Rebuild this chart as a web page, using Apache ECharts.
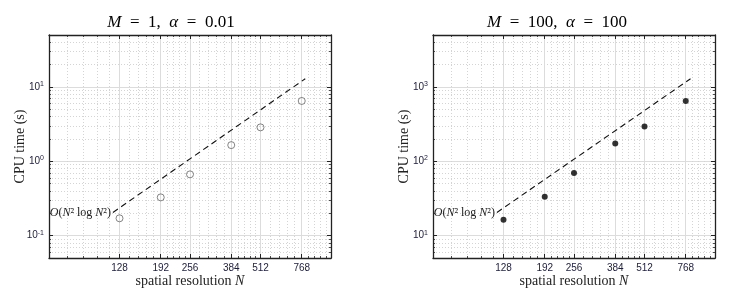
<!DOCTYPE html>
<html><head><meta charset="utf-8">
<script src="https://cdn.jsdelivr.net/npm/echarts@6/dist/echarts.min.js"></script>
<style>html,body{margin:0;padding:0;background:#fff}#c{width:740px;height:291px}</style>
</head><body><div id="c"></div>
<script>
// ---- data ----
const resolutions = [128, 192, 256, 384, 512, 768];
const cpuLeft  = [0.171, 0.327, 0.667, 1.65, 2.86, 6.48];
const cpuRight = [16.3, 33.4, 69.7, 173, 293, 649];
const refNLeft = [120, 795];
const refLeft  = [0.205, 12.9];
const refNRight = [120, 805];
const refRight = [20.5, 1290];
// ---- ticks ----
const xTicks = [128, 192, 256, 384, 512, 768];
const xMinorTicks = [76.8, 89.6, 102.4, 115.2, 140.8, 153.6, 166.4, 179.2, 204.8, 217.6, 230.4, 243.2,
  281.6, 307.2, 332.8, 358.4, 409.6, 435.2, 460.8, 486.4, 563.2, 614.4, 665.6, 716.8, 819.2, 870.4, 921.6, 972.8];
const yTicksLeft = [0.1, 1, 10];
const yMinorLeft = [0.06, 0.07, 0.08, 0.09, 0.2, 0.3, 0.4, 0.5, 0.6, 0.7, 0.8, 0.9, 2, 3, 4, 5, 6, 7, 8, 9, 20, 30, 40];
const yTicksRight = [10, 100, 1000];
const yMinorRight = [6, 7, 8, 9, 20, 30, 40, 50, 60, 70, 80, 90, 200, 300, 400, 500, 600, 700, 800, 900, 2000, 3000, 4000];
const titles = ['{i|M}\u2002=\u20021,  {i|\u03b1}\u2002=\u20020.01', '{i|M}\u2002=\u2002100,  {i|\u03b1}\u2002=\u2002100'];

const AX = '#222';
const LBL = '#1d1d3a';
const SERIF = '"Liberation Serif", "DejaVu Serif", serif';
const SANS = '"Liberation Sans", Arial, sans-serif';

function xAxes(g) {
  const base = {type: 'log', logBase: 10, min: 64, max: 1024, gridIndex: g};
  const line = {show: true, onZero: false, lineStyle: {color: AX, width: 1.3}};
  const major = {show: true, inside: true, length: 4, customValues: xTicks, lineStyle: {color: AX, width: 1}};
  const minor = {show: true, inside: true, length: 2, customValues: xMinorTicks, lineStyle: {color: AX, width: 0.8}};
  return [
    Object.assign({}, base, {position: 'bottom', axisLine: line, axisTick: major,
      axisLabel: {show: true, customValues: xTicks, formatter: v => String(Math.round(v)), fontSize: 10,
        fontFamily: SANS, color: LBL, margin: 5},
      splitLine: {show: true, lineStyle: {color: '#dcdcdc', width: 1}},
      name: 'spatial resolution {i|N}', nameLocation: 'middle', nameGap: 16, nameMoveOverlap: false,
      nameTextStyle: {fontFamily: SERIF, fontSize: 14, color: '#222',
        rich: {i: {fontFamily: SERIF, fontSize: 14, fontStyle: 'italic', color: '#222'}}}}),
    Object.assign({}, base, {position: 'bottom', axisLine: {show: false}, axisTick: minor, axisLabel: {show: false},
      splitLine: {show: true, lineStyle: {color: '#d4d4d4', width: 1, type: [1, 2]}}}),
    Object.assign({}, base, {position: 'top', axisLine: line, axisTick: major, axisLabel: {show: false}, splitLine: {show: false}}),
    Object.assign({}, base, {position: 'top', axisLine: {show: false}, axisTick: minor, axisLabel: {show: false}, splitLine: {show: false}})
  ];
}

function yAxes(g, ymin, ymax, maj, mnr) {
  const base = {type: 'log', logBase: 10, min: ymin, max: ymax, gridIndex: g};
  const line = {show: true, onZero: false, lineStyle: {color: AX, width: 1.3}};
  const major = {show: true, inside: true, length: 4, customValues: maj, lineStyle: {color: AX, width: 1}};
  const minor = {show: true, inside: true, length: 2, customValues: mnr, lineStyle: {color: AX, width: 0.8}};
  return [
    Object.assign({}, base, {position: 'left', axisLine: line, axisTick: major,
      axisLabel: {show: true, customValues: maj, margin: 5,
        formatter: v => '{b|10}{s|' + Math.round(Math.log10(v)) + '}',
        rich: {b: {fontSize: 10, fontFamily: SANS, color: LBL},
               s: {fontSize: 7, fontFamily: SANS, color: LBL, padding: [0, 0, 6, 0]}}},
      splitLine: {show: true, lineStyle: {color: '#dcdcdc', width: 1}},
      name: 'CPU time (s)', nameLocation: 'middle', nameGap: 22, nameMoveOverlap: false,
      nameTextStyle: {fontFamily: SERIF, fontSize: 14, color: '#222'}}),
    Object.assign({}, base, {position: 'left', axisLine: {show: false}, axisTick: minor, axisLabel: {show: false},
      splitLine: {show: true, lineStyle: {color: '#d4d4d4', width: 1, type: [1, 2]}}}),
    Object.assign({}, base, {position: 'right', axisLine: line, axisTick: major, axisLabel: {show: false}, splitLine: {show: false}}),
    Object.assign({}, base, {position: 'right', axisLine: {show: false}, axisTick: minor, axisLabel: {show: false}, splitLine: {show: false}})
  ];
}

const refLabel = {show: true, position: 'left', distance: 2, color: '#222',
  fontFamily: SERIF, fontSize: 12,
  formatter: '{i|O}({i|N}\u00b2 log {i|N}\u00b2)',
  rich: {i: {fontFamily: SERIF, fontSize: 12, fontStyle: 'italic', color: '#222'}}};

function refSeries(ns, vs, g) {
  return {type: 'line', xAxisIndex: g * 4, yAxisIndex: g * 4, symbol: 'circle', symbolSize: 0.01,
    showSymbol: true, silent: true, animation: false, z: 5,
    itemStyle: {color: 'rgba(0,0,0,0)'},
    lineStyle: {color: '#111', width: 1.1, type: [6, 4]},
    data: ns.map((n, i) => i === 0 ? {value: [n, vs[i]], label: refLabel} : [n, vs[i]])};
}

const option = {
  animation: false,
  backgroundColor: '#fff',
  grid: [
    {left: 49, top: 35, width: 282, height: 223, containLabel: false, outerBoundsMode: 'none'},
    {left: 433, top: 35, width: 282, height: 223, containLabel: false, outerBoundsMode: 'none'}
  ],
  xAxis: xAxes(0).concat(xAxes(1)),
  yAxis: yAxes(0, 0.05, 50, yTicksLeft, yMinorLeft).concat(yAxes(1, 5, 5000, yTicksRight, yMinorRight)),
  graphic: [
    {type: 'text', x: 171, y: 23, style: {text: titles[0], fontFamily: SERIF, fontSize: 17, fill: '#000',
      textAlign: 'center', textVerticalAlign: 'middle', verticalAlign: 'middle',
      rich: {i: {fontFamily: SERIF, fontSize: 17, fontStyle: 'italic', fill: '#000'}}}},
    {type: 'text', x: 557, y: 23, style: {text: titles[1], fontFamily: SERIF, fontSize: 17, fill: '#000',
      textAlign: 'center', textVerticalAlign: 'middle', verticalAlign: 'middle',
      rich: {i: {fontFamily: SERIF, fontSize: 17, fontStyle: 'italic', fill: '#000'}}}}
  ],
  series: [
    {type: 'scatter', xAxisIndex: 0, yAxisIndex: 0, symbol: 'circle', symbolSize: 7,
      itemStyle: {color: 'rgba(255,255,255,0)', borderColor: '#555', borderWidth: 0.9}, z: 6,
      data: resolutions.map((n, i) => [n, cpuLeft[i]])},
    refSeries(refNLeft, refLeft, 0),
    {type: 'scatter', xAxisIndex: 4, yAxisIndex: 4, symbol: 'circle', symbolSize: 6,
      itemStyle: {color: '#000'}, z: 6,
      data: resolutions.map((n, i) => [n, cpuRight[i]])},
    refSeries(refNRight, refRight, 1)
  ]
};
const chart = echarts.init(document.getElementById('c'), null, {renderer: 'canvas'});
chart.setOption(option);
</script></body></html>
